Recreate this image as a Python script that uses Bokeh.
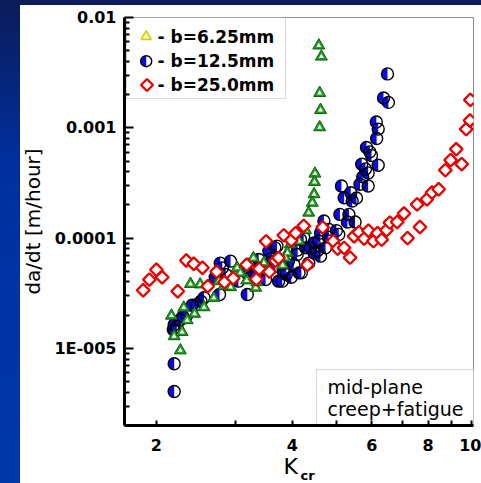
import math

from bokeh.embed import file_html
from bokeh.models import BoxAnnotation, CustomJSTickFormatter, FixedTicker, Label, Range1d
from bokeh.plotting import figure
from bokeh.resources import INLINE

# ---- data: crack growth rate da/dt [m/hour] against K_cr ----
k_625 = [4.58, 4.64, 4.60, 4.62, 4.60, 4.49, 4.48, 4.47, 4.43, 4.35, 4.28, 4.14,
         3.96, 3.90, 3.86, 3.81, 3.46, 3.44, 3.28, 3.17, 3.34, 3.32, 3.02, 3.07,
         2.92, 2.82, 2.75, 2.68, 2.50, 2.38, 2.55, 2.43, 2.34, 2.30, 2.16, 2.19,
         2.28, 2.26]
rate_625 = [5.57e-3, 4.42e-3, 2.07e-3, 1.45e-3, 1.01e-3, 3.84e-4, 3.23e-4, 2.50e-4,
            2.09e-4, 1.70e-4, 1.18e-4, 9.39e-5, 8.76e-5, 7.36e-5, 6.62e-5, 5.68e-5,
            5.96e-5, 5.34e-5, 6.58e-5, 4.13e-5, 3.98e-5, 3.55e-5, 5.37e-5, 4.84e-5,
            3.59e-5, 3.66e-5, 4.07e-5, 2.87e-5, 3.80e-5, 3.84e-5, 2.36e-5, 2.06e-5,
            1.80e-5, 2.34e-5, 1.98e-5, 1.29e-5, 1.41e-5, 9.59e-6]

k_125 = [6.50, 6.37, 6.53, 6.14, 6.20, 6.15, 5.84, 5.94, 5.99, 6.20, 5.70, 5.81,
         5.89, 5.73, 5.65, 5.89, 5.14, 5.21, 5.39, 5.43, 5.55, 5.10, 5.34, 5.30,
         5.51, 5.01, 5.07, 4.70, 4.82, 4.62, 4.58, 4.54, 4.47, 4.39, 4.28, 4.24,
         4.17, 4.10, 4.03, 4.19, 3.98, 3.88, 3.82, 3.92, 3.80, 3.66, 3.55, 3.70,
         3.61, 3.37, 3.40, 3.34, 3.49, 3.26, 3.20, 3.18, 3.15, 3.04, 2.92, 2.80,
         2.77, 2.73, 2.70, 2.76, 2.51, 2.55, 2.46, 2.40, 2.34, 2.29, 2.26, 2.22,
         2.19, 2.18, 2.20, 2.19, 2.19, 4.74, 4.81, 4.62, 4.14, 3.73, 3.67, 4.47,
         2.85, 4.11, 4.35]
rate_125 = [3.08e-3, 1.86e-3, 1.70e-3, 1.13e-3, 9.73e-4, 7.99e-4, 6.62e-4, 6.05e-4,
            5.62e-4, 4.58e-4, 4.68e-4, 4.24e-4, 3.90e-4, 3.59e-4, 3.08e-4, 2.97e-4,
            2.97e-4, 2.32e-4, 2.58e-4, 2.17e-4, 2.31e-4, 1.64e-4, 1.64e-4, 1.40e-4,
            1.40e-4, 1.17e-4, 1.08e-4, 1.43e-4, 1.20e-4, 1.11e-4, 9.39e-5, 7.62e-5,
            7.31e-5, 8.16e-5, 8.16e-5, 1.02e-4, 9.73e-5, 7.11e-5, 5.77e-5, 4.84e-5,
            4.42e-5, 4.68e-5, 5.01e-5, 6.18e-5, 4.07e-5, 8.16e-5, 7.62e-5, 8.46e-5,
            6.62e-5, 6.40e-5, 5.37e-5, 4.68e-5, 4.21e-5, 5.01e-5, 5.77e-5, 3.08e-5,
            5.37e-5, 4.07e-5, 6.18e-5, 5.37e-5, 5.93e-5, 4.84e-5, 4.42e-5, 3.08e-5,
            2.68e-5, 2.88e-5, 2.50e-5, 2.46e-5, 2.02e-5, 1.95e-5, 1.82e-5, 1.58e-5,
            1.64e-5, 1.48e-5, 1.43e-5, 7.26e-6, 4.07e-6, 8.16e-5, 1.02e-4, 6.86e-5,
            4.84e-5, 4.07e-5, 5.56e-5, 9.06e-5, 4.68e-5, 7.78e-5, 5.93e-5]

k_250 = [1.87, 1.93, 2.00, 2.06, 2.23, 2.33, 2.42, 2.53, 2.60, 2.72, 2.83, 2.96,
         3.17, 3.33, 3.38, 3.50, 3.56, 3.67, 3.73, 3.83, 3.98, 4.07, 4.24, 4.32,
         4.67, 4.93, 5.04, 5.21, 5.37, 5.48, 5.62, 5.77, 5.90, 6.05, 6.18, 6.31,
         6.47, 6.58, 6.83, 7.07, 7.20, 7.56, 7.67, 7.95, 8.16, 8.44, 8.73, 8.97,
         9.23, 9.49, 9.71, 9.90, 9.92]
rate_250 = [3.37e-5, 4.20e-5, 5.17e-5, 4.42e-5, 3.30e-5, 6.27e-5, 5.86e-5, 5.39e-5,
            3.66e-5, 4.96e-5, 3.98e-5, 4.33e-5, 5.74e-5, 4.24e-5, 5.28e-5, 9.33e-5,
            4.96e-5, 6.24e-5, 6.62e-5, 1.06e-4, 9.53e-5, 1.11e-4, 1.29e-4, 5.72e-5,
            1.25e-4, 9.39e-5, 8.03e-5, 8.16e-5, 6.65e-5, 1.04e-4, 1.13e-4, 9.90e-5,
            1.17e-4, 9.39e-5, 1.11e-4, 9.69e-5, 1.18e-4, 1.38e-4, 1.40e-4, 1.67e-4,
            1.00e-4, 2.02e-4, 1.26e-4, 2.25e-4, 2.59e-4, 2.77e-4, 4.13e-4, 5.09e-4,
            6.40e-4, 4.68e-4, 9.73e-4, 1.165e-3, 1.79e-3]

x_tick_values = [2, 3, 4, 5, 6, 7, 8, 9, 10]
x_tick_labels = ["2", "", "4", "", "6", "", "8", "", "10"]
y_tick_values = [1e-5, 1e-4, 1e-3, 1e-2]
y_tick_labels = ["1E-005", "0.0001", "0.001", "0.01"]

legend_labels = ["- b=6.25mm", "- b=12.5mm", "- b=25.0mm"]
note_lines = ["mid-plane", "creep+fatigue"]

# ---- layout ----
W, H = 481, 483
BORDER_L, BORDER_R, BORDER_T, BORDER_B = 124, 8, 17, 58
FW = W - BORDER_L - BORDER_R
FH = H - BORDER_T - BORDER_B
X_MIN, X_MAX = 1.7, 10.08
Y_MIN, Y_MAX = 2e-6, 1e-2

FONT = "DejaVu Sans"
BLUE = "#0a0ae8"
RED = "#e80000"
CIRCLE_SIZE = 12

page_bg = ("linear-gradient(#ffffff, #ffffff) 20px 5px / 461px 478px no-repeat, "
           "linear-gradient(to bottom, #0b1c5a 0%, #0030a0 35%, #0038aa 100%)")

p = figure(width=W, height=H, title=None,
           x_axis_type="log", y_axis_type="log",
           x_range=Range1d(X_MIN, X_MAX), y_range=Range1d(Y_MIN, Y_MAX),
           output_backend="svg", toolbar_location=None,
           min_border_left=BORDER_L, min_border_right=BORDER_R,
           min_border_top=BORDER_T, min_border_bottom=BORDER_B,
           background_fill_color="white", border_fill_alpha=0,
           outline_line_color="#8c8c8c", outline_line_width=1,
           styles={"background": page_bg})
p.grid.visible = False


def frame_point(px, py):
    """Position inside the frame (pixels from its top-left corner) in data units."""
    lx0, lx1 = math.log10(X_MIN), math.log10(X_MAX)
    ly0, ly1 = math.log10(Y_MIN), math.log10(Y_MAX)
    return (10 ** (lx0 + px / FW * (lx1 - lx0)),
            10 ** (ly1 - py / FH * (ly1 - ly0)))


def half_circles(xs, ys, size):
    """Circles with the left half filled blue and the right half white."""
    p.scatter(xs, ys, marker="circle", size=size, fill_color="white", line_color=None)
    p.wedge(xs, ys, radius=size / 2, radius_units="screen",
            start_angle=math.pi / 2, end_angle=3 * math.pi / 2,
            fill_color=BLUE, line_color=None)
    p.scatter(xs, ys, marker="circle", size=size, fill_color=None,
              line_color="black", line_width=1.4)


# ---- axes ----
xa = p.xaxis[0]
xa.ticker = FixedTicker(ticks=x_tick_values, minor_ticks=[])
xa.formatter = CustomJSTickFormatter(
    args=dict(vals=x_tick_values, labs=x_tick_labels),
    code="for (let i = 0; i < vals.length; i++) {"
         " if (Math.abs(vals[i] - tick) < 1e-9 * vals[i]) return labs[i]; }"
         " return '';")
ya = p.yaxis[0]
ya.ticker = FixedTicker(ticks=y_tick_values,
                        minor_ticks=[m * 10 ** e for e in range(-6, -2) for m in range(2, 10)])
ya.formatter = CustomJSTickFormatter(
    args=dict(vals=y_tick_values, labs=y_tick_labels),
    code="for (let i = 0; i < vals.length; i++) {"
         " if (Math.abs(Math.log10(vals[i] / tick)) < 1e-6) return labs[i]; }"
         " return '';")

for ax in (xa, ya):
    ax.axis_line_width = 3
    ax.axis_line_color = "black"
    ax.major_tick_out = 0
    ax.minor_tick_out = 0
    ax.major_tick_line_width = 2
    ax.minor_tick_line_width = 2
    ax.major_label_text_font = FONT
    ax.major_label_text_font_size = "16px"
    ax.major_label_text_font_style = "bold"
    ax.major_label_text_color = "black"

xa.major_tick_in = 5
xa.minor_tick_in = 0
xa.major_label_standoff = 13
ya.major_tick_in = 9
ya.minor_tick_in = 5
ya.major_label_standoff = 8
ya.axis_label = "da/dt [m/hour]"
ya.axis_label_text_font = FONT
ya.axis_label_text_font_size = "20px"
ya.axis_label_text_font_style = "normal"
ya.axis_label_text_color = "black"
ya.axis_label_standoff = 6

# ---- data marks ----
# b=12.5mm: half-filled circles
half_circles(k_125, rate_125, CIRCLE_SIZE)

# b=6.25mm: green triangles with a white core
p.scatter(k_625, rate_625, marker="triangle", size=12, fill_color="#1fa01f",
          line_color="#0b5a0b", line_width=1)
p.scatter(k_625, rate_625, marker="triangle", size=5, fill_color="white", line_color=None)

# b=25.0mm: red diamonds
p.scatter(k_250, rate_250, marker="square", angle=math.pi / 4, size=9,
          fill_color="white", line_color=RED, line_width=2.3)

# ---- legend ----
p.add_layout(BoxAnnotation(left=2, right=161, top=FH, bottom=FH - 81,
                           left_units="screen", right_units="screen",
                           top_units="screen", bottom_units="screen",
                           fill_color="white", fill_alpha=1,
                           line_color="#808080", line_width=1, level="underlay"))

kx, ky = frame_point(21.7, 19)
p.scatter([kx], [ky], marker="triangle", size=10, fill_color="#ffffa0",
          line_color="#cccc00", line_width=1.5)
cx, cy = frame_point(21.7, 43.7)
half_circles([cx], [cy], 11)
dx, dy = frame_point(22.5, 67.5)
p.scatter([dx], [dy], marker="square", angle=math.pi / 4, size=8.5,
          fill_color="white", line_color=RED, line_width=2.3)

for i, text in enumerate(legend_labels):
    p.add_layout(Label(x=33, y=FH - 19 - 24 * i, x_units="screen", y_units="screen",
                       text=text, text_baseline="middle", text_align="left",
                       text_font=FONT, text_font_size="17px",
                       text_font_style="bold", text_color="black"))

# ---- note box, bottom right ----
p.add_layout(BoxAnnotation(left=192, right=FW + 2, top=56, bottom=-2,
                           left_units="screen", right_units="screen",
                           top_units="screen", bottom_units="screen",
                           fill_color="white", fill_alpha=1,
                           line_color="#808080", line_width=1, level="underlay"))
for i, text in enumerate(note_lines):
    p.add_layout(Label(x=203, y=39 - 22 * i, x_units="screen", y_units="screen",
                       text=text, text_baseline="middle", text_align="left",
                       text_font=FONT, text_font_size="19px",
                       text_font_style="normal", text_color="black"))

# ---- x axis title K_cr ----
# The two parts live in side panels (which are not clipped to the frame):
# "K" below the x axis, the subscript in the (otherwise empty) top panel,
# offset downwards from that panel's bottom edge.
p.add_layout(Label(x=159, y=12, x_units="screen", y_units="screen",
                   text="K", text_baseline="middle", text_align="left",
                   text_font=FONT, text_font_size="22px", text_color="black"), "below")
p.add_layout(Label(x=176, y=-(FH + 50), x_units="screen", y_units="screen",
                   text="cr", text_baseline="middle", text_align="left",
                   text_font=FONT, text_font_size="13px", text_font_style="bold",
                   text_color="black"), "above")

open("out.html", "w").write(file_html(p, INLINE))
